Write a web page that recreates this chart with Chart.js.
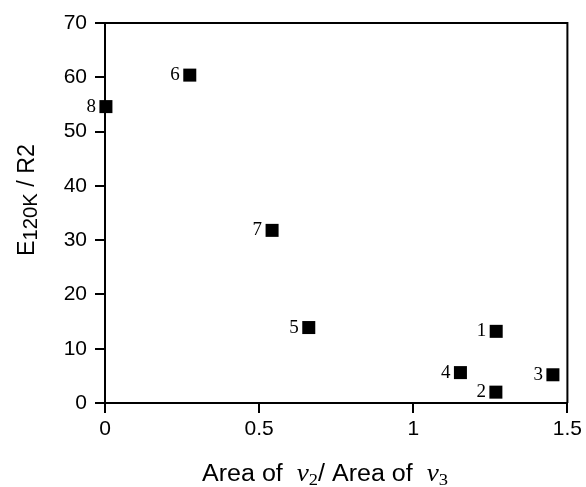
<!DOCTYPE html>
<html>
<head>
<meta charset="utf-8">
<script src="https://cdn.jsdelivr.net/npm/chart.js@4/dist/chart.umd.min.js"></script>
<style>
html,body{margin:0;padding:0;background:#fff;}
#wrap{width:586px;height:487px;position:relative;}
</style>
</head>
<body>
<div id="wrap"><canvas id="c"></canvas></div>
<script>
// ---- data ----
const pointLabels = ['1', '2', '3', '4', '5', '6', '7', '8'];
const xValues = [1.269, 1.268, 1.453, 1.153, 0.661, 0.275, 0.542, 0.003];
const yValues = [13.2, 2.0, 5.2, 5.6, 13.9, 60.4, 31.8, 54.6];
const xTickLabels = ['0', '0.5', '1', '1.5'];
const yTickLabels = ['0', '10', '20', '30', '40', '50', '60', '70'];
const xTitleParts = [
  { text: 'Area of  ', font: '23px "Liberation Sans"' },
  { text: 'ν', font: 'italic 25px "Liberation Serif"' },
  { text: '2', font: '17px "Liberation Serif"', dy: 4 },
  { text: '/ Area of  ', font: '23px "Liberation Sans"' },
  { text: 'ν', font: 'italic 25px "Liberation Serif"' },
  { text: '3', font: '17px "Liberation Serif"', dy: 4 }
];
const yTitleParts = [
  { text: 'E', font: '23px "Liberation Sans"' },
  { text: '120K', font: '20px "Liberation Sans"', dy: 3 },
  { text: ' / R2', font: '23px "Liberation Sans"' }
];

const points = xValues.map((x, i) => ({ x: x, y: yValues[i] }));

function drawRich(ctx, parts, cx, cy, targetW) {
  let total = 0;
  parts.forEach(p => { ctx.font = p.font; p.w = ctx.measureText(p.text).width; total += p.w; });
  const sx = targetW ? targetW / total : 1;
  ctx.save();
  ctx.translate(cx, cy);
  ctx.scale(sx, 1);
  let x = -total / 2;
  parts.forEach(p => { ctx.font = p.font; ctx.fillText(p.text, x, (p.dy || 0)); x += p.w; });
  ctx.restore();
}

const framePlugin = {
  id: 'frameAndLabels',
  beforeDatasetsDraw(chart) {
    const ctx = chart.ctx, a = chart.chartArea;
    ctx.save();
    ctx.strokeStyle = '#000';
    ctx.lineWidth = 2;
    ctx.beginPath();
    ctx.moveTo(a.left, a.top);
    ctx.lineTo(a.right, a.top);
    ctx.lineTo(a.right, a.bottom);
    ctx.stroke();
    ctx.restore();
  },
  afterDatasetsDraw(chart) {
    const ctx = chart.ctx;
    const meta = chart.getDatasetMeta(0);
    ctx.save();
    ctx.fillStyle = '#000';
    ctx.textAlign = 'right';
    ctx.textBaseline = 'alphabetic';
    ctx.font = '19px "Liberation Serif"';
    meta.data.forEach((el, i) => {
      ctx.fillText(pointLabels[i], el.x - 10, el.y + 5);
    });
    // axis titles
    ctx.textAlign = 'left';
    drawRich(ctx, xTitleParts, 325, 481, 246);
    ctx.translate(34, 200);
    ctx.rotate(-Math.PI / 2);
    drawRich(ctx, yTitleParts, 0, 0, 112);
    ctx.restore();
  }
};

Chart.defaults.font.family = '"Liberation Sans"';
Chart.defaults.color = '#000';

new Chart(document.getElementById('c'), {
  type: 'scatter',
  data: {
    datasets: [{
      data: points,
      pointStyle: 'rect',
      pointRadius: 9.2,
      pointHoverRadius: 9.2,
      pointBorderWidth: 0,
      backgroundColor: '#000',
      borderColor: '#000',
      clip: false
    }]
  },
  options: {
    responsive: true,
    maintainAspectRatio: false,
    animation: false,
    events: [],
    layout: { padding: { top: 23, right: 17, left: 0, bottom: 0 } },
    plugins: { legend: { display: false }, tooltip: { enabled: false } },
    scales: {
      x: {
        type: 'linear',
        min: 0, max: 1.5,
        afterFit: s => { s.height = 84; },
        grid: { drawOnChartArea: false, drawTicks: true, tickLength: 10, color: '#000', lineWidth: 2 },
        border: { display: true, color: '#000', width: 2 },
        ticks: {
          stepSize: 0.5,
          padding: 4,
          maxRotation: 0,
          font: { size: 21, family: '"Liberation Sans"' },
          color: '#000',
          callback: (v, i) => xTickLabels[i]
        },
        title: { display: false }
      },
      y: {
        type: 'linear',
        min: 0, max: 70,
        afterFit: s => { s.width = 105; },
        grid: { drawOnChartArea: false, drawTicks: true, tickLength: 10, color: '#000', lineWidth: 2 },
        border: { display: true, color: '#000', width: 2 },
        ticks: {
          stepSize: 10,
          padding: 8,
          font: { size: 21, family: '"Liberation Sans"' },
          color: '#000',
          callback: (v, i) => yTickLabels[i]
        },
        title: { display: false }
      }
    }
  },
  plugins: [framePlugin]
});
</script>
</body>
</html>
